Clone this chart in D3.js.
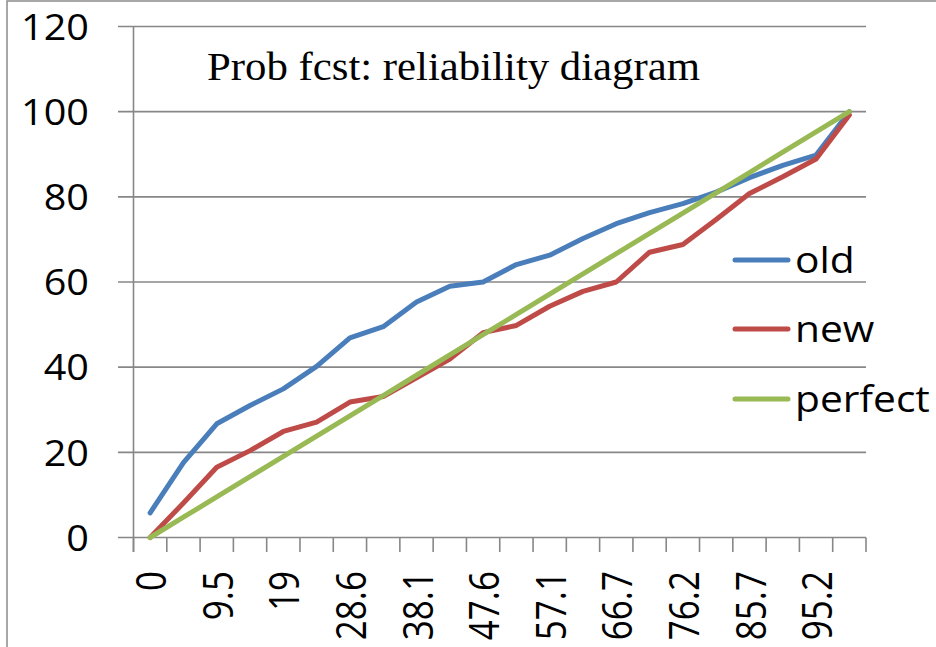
<!DOCTYPE html>
<html><head><meta charset="utf-8">
<script src="https://cdn.jsdelivr.net/npm/d3@7"></script>
<style>body{margin:0;background:#fff}svg{display:block}</style>
</head><body>
<svg id="c" width="936" height="647"></svg>
<script>
const categories = [0,4.8,9.5,14.3,19,23.8,28.6,33.3,38.1,42.9,47.6,52.4,57.1,61.9,66.7,71.4,76.2,81,85.7,90.5,95.2,100];
const oldVals = [5.8,17.6,26.7,31.0,34.9,40.2,46.9,49.5,55.3,59.0,60,64.1,66.3,70.2,73.7,76.3,78.4,81.1,84.5,87.4,89.8,100];
const newVals = [0,8.1,16.5,20.4,24.9,27.1,31.8,33.1,37.5,41.9,48.1,49.8,54.3,57.8,60,67.0,68.8,74.7,80.8,84.7,88.9,99.2];
const perfectVals = [0,4.76,9.52,14.29,19.05,23.81,28.57,33.33,38.1,42.86,47.62,52.38,57.14,61.9,66.67,71.43,76.19,80.95,85.71,90.48,95.24,100];
const xTickLabels = ["0","9.5","19","28.6","38.1","47.6","57.1","66.7","76.2","85.7","95.2"];
const yTicks = [0,20,40,60,80,100,120];
const seriesNames = ["old","new","perfect"];
const colors = ["#4a7ebb","#be4b48","#98b954"];
const title = "Prob fcst: reliability diagram";

const svg = d3.select("#c");
svg.append("rect").attr("width",936).attr("height",647).attr("fill","#fff");
svg.append("path").attr("d","M7,647V1H936").attr("fill","none").attr("stroke","#8a8a8a").attr("stroke-width",1.5);

const x = d3.scaleBand().domain(d3.range(categories.length)).range([133.5,866]).padding(0);
const y = d3.scaleLinear().domain([0,120]).range([537.5,26.5]);
const gray = "#878787";

// gridlines + y ticks
const yAxis = d3.axisLeft(y).tickValues(yTicks).tickSize(-(866-118)).tickFormat("");
const gy = svg.append("g").attr("transform","translate(866,0)");
gy.selectAll("line.g").data(yTicks).enter().append("line")
  .attr("x1",118-866).attr("x2",0).attr("y1",d=>y(d)).attr("y2",d=>y(d))
  .attr("stroke",gray).attr("stroke-width",1.6);

// y axis line
svg.append("line").attr("x1",133.5).attr("x2",133.5).attr("y1",y(120)).attr("y2",552).attr("stroke",gray).attr("stroke-width",1.6);
// x axis ticks at band boundaries
const bounds = d3.range(categories.length+1).map(i => i<categories.length ? x(i) : x.range()[1]);
svg.selectAll("line.xt").data(bounds).enter().append("line")
  .attr("x1",d=>d).attr("x2",d=>d).attr("y1",y(0)).attr("y2",552)
  .attr("stroke",gray).attr("stroke-width",1.6);

// y labels
svg.selectAll("text.yl").data(yTicks).enter().append("text")
  .attr("transform",d=>`translate(89,${y(d)}) scale(1.07,1)`)
  .attr("text-anchor","end").attr("dy","0.36em")
  .attr("font-family","Open Sans").attr("font-size",37).attr("fill","#000")
  .text(d=>d);

// x labels (every other category)
const labelIdx = d3.range(0,categories.length,2);
svg.selectAll("text.xl").data(labelIdx).enter().append("text")
  .attr("transform",(d,i)=>`translate(${x(d)+x.bandwidth()/2+1},571) scale(1.2,1) rotate(-90)`)
  .attr("text-anchor","end").attr("dy","0.36em")
  .attr("font-family","Open Sans").attr("font-size",35).attr("fill","#000")
  .text((d,i)=>xTickLabels[i]);

// lines
const allSeries = [oldVals,newVals,perfectVals];
const line = d3.line().x((d,i)=>x(i)+x.bandwidth()/2).y(d=>y(d));
// draw perfect first? order: old, new, perfect (perfect on top)
allSeries.forEach((s,k)=>{
  svg.append("path").datum(s).attr("d",line).attr("fill","none")
    .attr("stroke",colors[k]).attr("stroke-width",5).attr("stroke-linejoin","round").attr("stroke-linecap","round");
});

// title
svg.append("text").attr("x",207).attr("y",80)
  .attr("font-family","Liberation Serif").attr("font-size",40)
  .attr("textLength",493).attr("lengthAdjust","spacingAndGlyphs")
  .attr("fill","#000").text(title);

// legend
const legY = [260,329,399];
seriesNames.forEach((n,k)=>{
  svg.append("line").attr("x1",735).attr("x2",788).attr("y1",legY[k]).attr("y2",legY[k])
    .attr("stroke",colors[k]).attr("stroke-width",5).attr("stroke-linecap","round");
  svg.append("text").attr("transform",`translate(795,${legY[k]+13}) scale(1.1,1)`)
    .attr("font-family","Open Sans").attr("font-size",37).attr("fill","#000").text(n);
});
</script>
</body></html>
